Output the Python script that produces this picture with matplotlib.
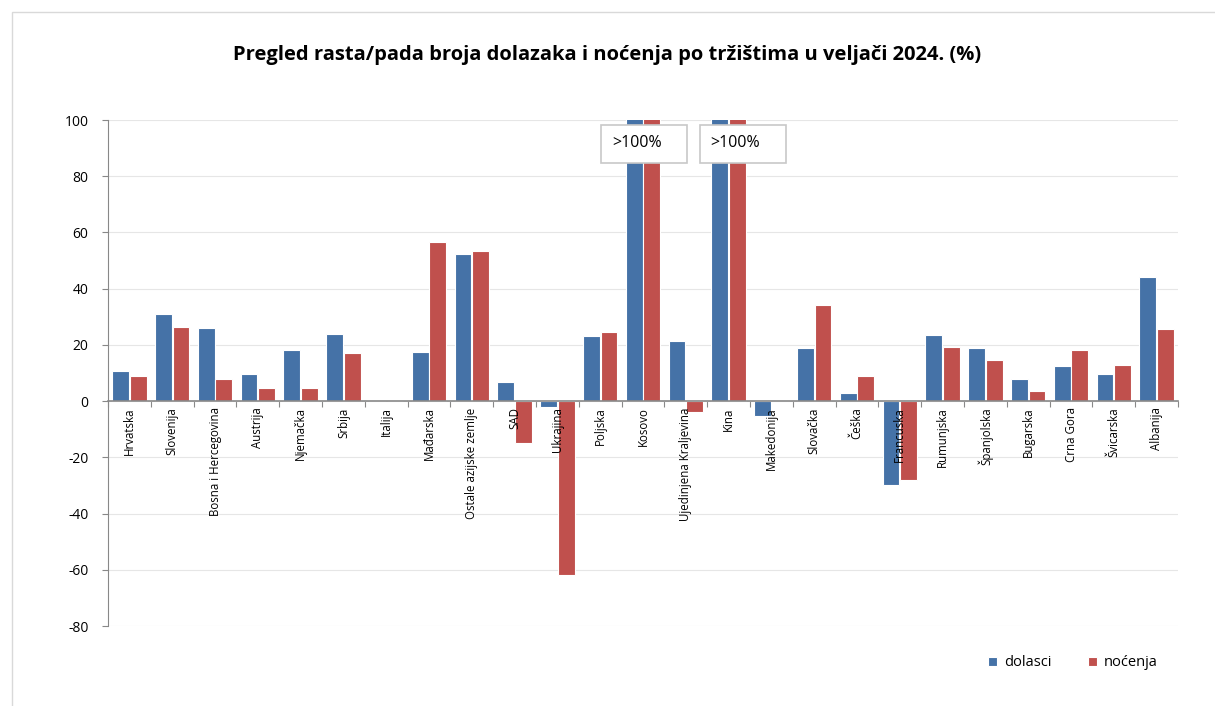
import numpy as np
import matplotlib
matplotlib.use("Agg")
import matplotlib.pyplot as plt
from matplotlib.patches import Rectangle

plt.rcParams['font.family'] = ['Open Sans', 'DejaVu Sans']
plt.rcParams['axes.unicode_minus'] = False

# podaci (%)
trzista = ['Hrvatska', 'Slovenija', 'Bosna i Hercegovina', 'Austrija', 'Njemačka',
           'Srbija', 'Italija', 'Mađarska', 'Ostale azijske zemlje', 'SAD', 'Ukrajina',
           'Poljska', 'Kosovo', 'Ujedinjena Kraljevina', 'Kina', 'Makedonija',
           'Slovačka', 'Češka', 'Francuska', 'Rumunjska', 'Španjolska', 'Bugarska',
           'Crna Gora', 'Švicarska', 'Albanija']
dolasci = [10.6, 31.0, 26.0, 9.7, 18.3, 23.7, 0.0, 17.3, 52.4, 6.8, -2.1,
           23.3, 140.0, 21.5, 150.0, -5.2, 18.9, 2.9, -29.7, 23.4, 18.8, 7.9,
           12.4, 9.7, 44.2]
nocenja = [8.8, 26.5, 7.9, 4.7, 4.7, 17.0, 0.0, 56.5, 53.4, -14.9, -61.9,
           24.7, 135.0, -4.0, 145.0, 0.5, 34.2, 8.8, -27.9, 19.3, 14.7, 3.7,
           18.3, 12.9, 25.6]
iznad_100 = ['Kosovo', 'Kina']
pomak_oznake = [-0.98, -0.67]  # lijevi rub okvira u odnosu na stupac

plava = '#4572A7'
crvena = '#C0504D'

fig = plt.figure(figsize=(12.15, 7.06), dpi=100)
ax = fig.add_axes([108/1215, 1 - 626/706, (1178 - 108)/1215, (626 - 120)/706])

x = np.arange(len(trzista))
w = 0.39
ax.bar(x - w/2 - 0.01, dolasci, w, color=plava, edgecolor='white', linewidth=0.8,
       label='dolasci', zorder=2)
ax.bar(x + w/2 + 0.01, nocenja, w, color=crvena, edgecolor='white', linewidth=0.8,
       label='noćenja', zorder=2)

ax.set_xlim(-0.5, len(trzista) - 0.5)
ax.set_ylim(-80, 100)
ax.set_yticks(np.arange(-80, 101, 20))
ax.tick_params(axis='y', labelsize=10, length=4, color='#888888', pad=10)
ax.yaxis.grid(True, color='#e6e6e6', linewidth=0.8)
ax.set_axisbelow(True)

for s in ['top', 'right']:
    ax.spines[s].set_visible(False)
ax.spines['left'].set_color('#888888')
ax.spines['bottom'].set_position(('data', 0))
ax.spines['bottom'].set_color('#888888')
ax.spines['bottom'].set_linewidth(1.2)
ax.spines['bottom'].set_zorder(3)
ax.set_xticks(np.arange(-0.5, len(trzista), 1))
ax.set_xticklabels([])
ax.tick_params(axis='x', length=4, direction='out', color='#888888')

for i, t in enumerate(trzista):
    ax.text(i, -2.2, t, rotation=90, ha='center', va='top', fontsize=8.3,
            color='black', zorder=5)

# oznake >100%
for t, p in zip(iznad_100, pomak_oznake):
    i = trzista.index(t)
    ax.add_patch(Rectangle((i + p, 84.7), 2.0, 13.5, facecolor='white',
                           edgecolor='#c8c8c8', linewidth=1.2, zorder=6))
    ax.text(i + p + 0.25, 91.8, '>100%', ha='left', va='center', fontsize=11.5, zorder=7)

fig.text(0.5, 1 - 55/706, 'Pregled rasta/pada broja dolazaka i noćenja po tržištima u veljači 2024. (%)',
         ha='center', va='center', fontsize=14.5, fontweight='bold')

fig.legend(loc='center', bbox_to_anchor=(1073/1215, 1 - 663/706), ncol=2, frameon=False,
           fontsize=10.5, handlelength=0.6, handleheight=0.6, columnspacing=2.5,
           handletextpad=0.5)

fig.add_artist(Rectangle((12/1215, -0.01), 1.2, 1 - 12/706 + 0.01, transform=fig.transFigure,
                         facecolor='none', edgecolor='#d9d9d9', linewidth=1))

fig.savefig('out.png', dpi=100)
